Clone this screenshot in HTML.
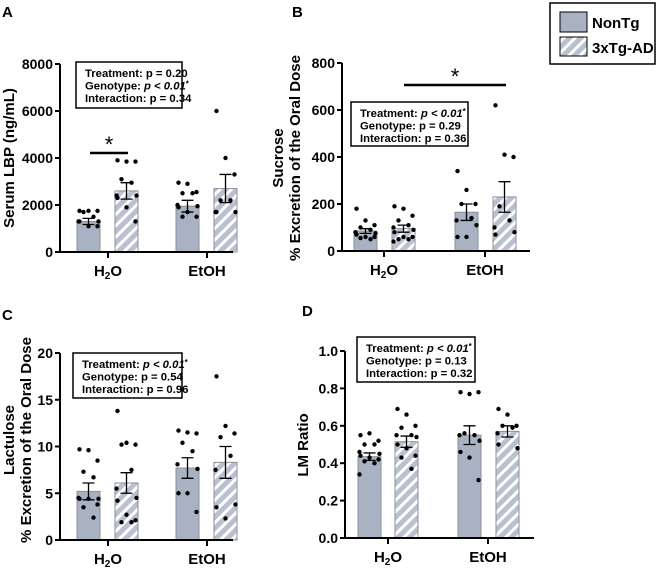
<!DOCTYPE html>
<html><head><meta charset="utf-8"><style>
body{margin:0;background:#fff;}
svg{display:block;font-family:"Liberation Sans",Arial,sans-serif;font-weight:bold;}
</style></head><body>
<svg id="fig" width="659" height="577" viewBox="0 0 659 577">
<defs>
<pattern id="hatch" patternUnits="userSpaceOnUse" width="8" height="8" patternTransform="rotate(45)">
<rect width="8" height="8" fill="#b9c1d0"/><rect width="3" height="8" fill="#ffffff"/>
</pattern>
</defs>
<g font-size="15">
<text x="2" y="17">A</text>
<text x="292" y="17">B</text>
<text x="2" y="320">C</text>
<text x="302" y="316">D</text>
</g>
<g>
<rect x="550" y="3" width="105" height="61" fill="#fff" stroke="#000" stroke-width="1.5"/>
<rect x="560" y="12" width="27" height="20" fill="#a9b2c3" stroke="#000" stroke-width="1"/>
<text x="592" y="28" font-size="15">NonTg</text>
<rect x="560" y="37" width="27" height="19" fill="url(#hatch)" stroke="#000" stroke-width="1"/>
<text x="592" y="53" font-size="15">3xTg-AD</text>
</g>
</svg>
<script>
// Panel A: Serum LBP
const aMeans=[1300,2600,1950,2700];
const aSem=[130,350,250,600];
const aDots=[[1750,1750,1750,1700,1500,1300,1300,1300,1100,1100],[3900,3850,3850,3100,2950,2400,2400,2300,1900,1300],[2950,2900,2550,2500,2500,2000,1950,1900,1700,1500,1500],[6000,4000,3300,2200,2200,1700,1700,1700]];
const aTicks=[0,2000,4000,6000,8000];
// Panel B: Sucrose
const bMeans=[85,95,165,230];
const bSem=[10,15,35,65];
const bDots=[[180,130,110,100,90,80,75,70,60,60,55,50],[190,180,150,130,110,100,90,80,60,60,50,50,40],[340,260,200,200,140,130,110,60,60],[620,410,400,190,130,100,80,70]];
const bTicks=[0,200,400,600,800];
// Panel C: Lactulose
const cMeans=[5.2,6.1,7.7,8.3];
const cSem=[0.9,1.1,1.1,1.7];
const cDots=[[9.7,9.6,8.5,7.3,6.7,4.5,4.4,4.4,4.4,3.8,3.5,2.4],[13.8,10.4,10.2,10.2,7.5,5.5,4.5,4.2,2.7,2.1,1.9,1.9],[11.7,11.5,11.4,10.4,9.5,8.1,7.6,5.0,5.0,3.0],[17.5,12.2,11.4,11.0,9.0,7.5,3.8,3.5,2.3]];
const cTicks=[0,5,10,15,20];
// Panel D: LM Ratio
const dMeans=[0.435,0.515,0.55,0.57];
const dSem=[0.02,0.03,0.05,0.03];
const dDots=[[0.55,0.56,0.52,0.5,0.5,0.46,0.45,0.44,0.43,0.42,0.41,0.40,0.34],[0.69,0.66,0.6,0.59,0.55,0.55,0.54,0.5,0.48,0.44,0.43,0.37],[0.78,0.77,0.78,0.56,0.55,0.55,0.52,0.46,0.43,0.31],[0.69,0.66,0.6,0.6,0.59,0.56,0.48,0.5]];
const dTicks=["0.0","0.2","0.4","0.6","0.8","1.0"];
const groups=["H2O","EtOH"];

const NS="http://www.w3.org/2000/svg";
const svg=document.getElementById('fig');
function mk(tag,attrs,parent,text){const e=document.createElementNS(NS,tag);for(const k in attrs)e.setAttribute(k,attrs[k]);if(text!==undefined)e.textContent=text;(parent||svg).appendChild(e);return e;}

function panel(cfg){
  const g=mk('g',{});
  
  
  const tickVals=cfg.ticks.map(Number);
  const ymax=tickVals[tickVals.length-1];
  const y=v=>cfg.y0-(v/ymax)*(cfg.y0-cfg.yTop);
  for(let i=0;i<4;i++){
    const x0=cfg.barX[i];
    const r=mk('rect',{x:x0,y:y(cfg.means[i]),width:cfg.bw,height:cfg.y0-y(cfg.means[i]),fill:i%2?'url(#hatch)':'#a9b2c3',stroke:'#8a8f99','stroke-width':1},g);
    
    
    const cx=x0+cfg.bw/2;
    const eb=mk('path',{d:`M${cx-6},${y(cfg.means[i]+cfg.sem[i])}H${cx+6}M${cx},${y(cfg.means[i]+cfg.sem[i])}V${y(cfg.means[i]-cfg.sem[i])}M${cx-6},${y(cfg.means[i]-cfg.sem[i])}H${cx+6}`,stroke:'#000','stroke-width':1.3,fill:'none'},g);
    
    
    const offs=[-9,0,9,-5,5,-10,10];
    cfg.dots[i].forEach((v,j)=>{
      const c=mk('circle',{cx:cx+offs[j%offs.length],cy:y(v),r:2.2,fill:'#000'},g);
      
      
    });
  }
  const ax=mk('path',{d:`M${cfg.ax},${cfg.yTop}V${cfg.y0}H${cfg.xEnd}`,stroke:'#000','stroke-width':2,fill:'none'},g);
  
  
  cfg.ticks.forEach(t=>{
    const yy=y(Number(t));
    mk('line',{x1:cfg.ax-5,x2:cfg.ax,y1:yy,y2:yy,stroke:'#000','stroke-width':2},g);
    const tl=mk('text',{x:cfg.ax-7,y:yy+5,'font-size':14,'text-anchor':'end'},g,t);
    
    
  });
  cfg.xt.forEach((xx,k)=>{
    mk('line',{x1:xx,x2:xx,y1:cfg.y0,y2:cfg.y0+6,stroke:'#000','stroke-width':2},g);
    const tl=mk('text',{x:xx,y:cfg.y0+24,'font-size':15,'text-anchor':'middle'},g);
    
    
    if(k===0){tl.textContent='H';mk('tspan',{'font-size':10,dy:3},tl,'2');mk('tspan',{dy:-3},tl,'O');}
    else tl.textContent='EtOH';
  });
  cfg.titles.forEach(tt=>{
    const t=mk('text',{x:0,y:0,'font-size':15,'text-anchor':'middle',transform:`translate(${tt[0]},${cfg.titleY}) rotate(-90)`},g,tt[1]);
    
    
  });
  const b=cfg.box;
  const br=mk('rect',{x:b[0],y:b[1],width:b[2],height:b[3],fill:'#fff',stroke:'#000','stroke-width':1.5},g);
  
  
  cfg.stats.forEach((s,k)=>{
    const t=mk('text',{x:b[0]+9,y:b[1]+15+k*12.5,'font-size':11.3},g);
    
    
    mk('tspan',{},t,s[0]);
    if(s[1]){mk('tspan',{'font-style':'italic'},t,'p < 0.01');mk('tspan',{'font-size':8,dy:-3},t,'*');}
  });
  if(cfg.sig){
    const s=cfg.sig;
    mk('line',{x1:s[0],x2:s[1],y1:s[2],y2:s[2],stroke:'#000','stroke-width':2.5},g);
    const st=mk('text',{x:(s[0]+s[1])/2,y:s[2]-1,'font-size':22,'font-weight':'normal','text-anchor':'middle'},g,'*');
    
    
  }
}
panel({name:'panel-a-serum-lbp',means:aMeans,sem:aSem,dots:aDots,ticks:aTicks.map(String),ax:60,y0:252,yTop:64,xEnd:233,barX:[77,115,176,214],bw:23,xt:[108,207],
  titles:[[14,'Serum LBP (ng/mL)']],titleY:158,box:[76,62,106,46],
  stats:[['Treatment: p = 0.20'],['Genotype: ',1],['Interaction: p = 0.34']],sig:[90,128,153]});
panel({name:'panel-b-sucrose',means:bMeans,sem:bSem,dots:bDots,ticks:bTicks.map(String),ax:342,y0:251,yTop:63,xEnd:530,barX:[354,392,455,493],bw:23,xt:[384,485],
  titles:[[283,'Sucrose'],[300,'% Excretion of the Oral Dose']],titleY:158,box:[351,102,117,44],
  stats:[['Treatment: ',1],['Genotype: p = 0.29'],['Interaction: p = 0.36']],sig:[404,506,85]});
panel({name:'panel-c-lactulose',means:cMeans,sem:cSem,dots:cDots,ticks:cTicks.map(String),ax:60,y0:540,yTop:353,xEnd:233,barX:[77,115,176,214],bw:23,xt:[108,207],
  titles:[[14,'Lactulose'],[31,'% Excretion of the Oral Dose']],titleY:440,box:[73,353,109,45],
  stats:[['Treatment: ',1],['Genotype: p = 0.54'],['Interaction: p = 0.96']]});
panel({name:'panel-d-lm-ratio',means:dMeans,sem:dSem,dots:dDots,ticks:dTicks,ax:345,y0:538,yTop:351,xEnd:534,barX:[358,395,458,496],bw:23,xt:[388,488],
  titles:[[308,'LM Ratio']],titleY:445,box:[357,337,118,45],
  stats:[['Treatment: ',1],['Genotype:  p = 0.13'],['Interaction: p = 0.32']]});
</script>
</body></html>
